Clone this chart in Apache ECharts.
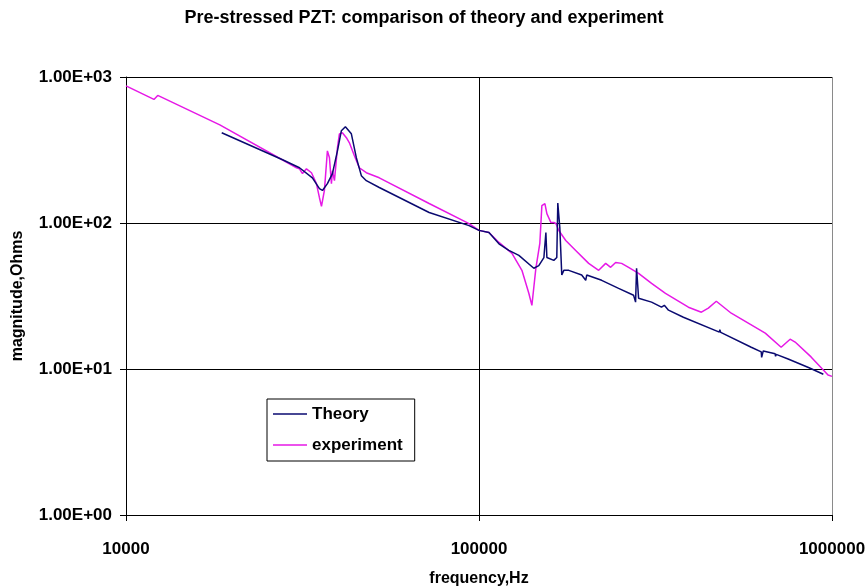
<!DOCTYPE html>
<html>
<head>
<meta charset="utf-8">
<script src="https://cdn.jsdelivr.net/npm/echarts@6/dist/echarts.min.js"></script>
<style>
html,body{margin:0;padding:0;background:#fff;}
#chart{width:866px;height:586px;}
</style>
</head>
<body>
<div id="chart"></div>
<script>
// ---- data ----
const titleText = 'Pre-stressed PZT: comparison of theory and experiment';
const xAxisName = 'frequency,Hz';
const yAxisName = 'magnitude,Ohms';
const seriesNames = ['Theory', 'experiment'];
const yTickLabels = ['1.00E+00', '1.00E+01', '1.00E+02', '1.00E+03'];

const theoryFreq = [18670, 27770, 31010, 33730, 35320, 36020, 37200, 38440, 39720, 40740, 41830, 43490, 44930, 46420, 47950, 52180, 72240, 93710, 100000, 106700, 113900, 121500, 129700, 143000, 147700, 152700, 154700, 155700, 162900, 166100, 167200, 169400, 171600, 173900, 179600, 195400, 200600, 201900, 222600, 248600, 274100, 277700, 279500, 283200, 308200, 328800, 333100, 335000, 344200, 379300, 479500, 481000, 484000, 590500, 630300, 632000, 638600, 690200, 692000, 695000, 751100, 861000, 945000];
const theoryMag  = [415, 271, 239, 204, 172, 167, 186, 218, 312, 428, 456, 408, 280, 211, 195, 175, 118, 96, 89, 86, 72, 65, 60, 49, 51, 58, 86, 58, 55.5, 58, 137, 93, 44, 47.4, 47.4, 44, 40.5, 44, 40.5, 35.7, 32, 28.7, 49, 30.5, 28.7, 26.5, 26.2, 27.3, 25.3, 22.6, 17.9, 18.6, 17.8, 14.1, 13.1, 12.0, 13.3, 12.7, 12.2, 12.6, 11.7, 10.2, 9.2];

const expFreq = [10000, 12000, 12300, 18440, 30410, 31010, 31620, 32450, 33530, 34630, 35320, 35790, 36480, 37200, 37700, 38190, 38440, 38950, 39720, 40230, 41020, 42100, 42940, 44360, 45810, 47950, 52180, 72240, 93710, 100000, 106700, 113900, 124000, 132300, 138400, 141200, 143000, 144900, 145800, 148700, 150700, 153700, 155700, 159800, 162900, 165100, 168300, 176100, 187900, 204500, 218300, 228500, 236000, 243800, 253500, 265300, 283200, 308200, 337500, 391900, 426600, 446300, 470200, 518400, 647000, 717600, 761000, 786200, 872300, 974300, 1000000];
const expMag  = [869, 702, 748, 470, 239, 235, 218, 235, 221, 186, 149, 130, 167, 312, 280, 186, 228, 195, 328, 408, 415, 384, 354, 289, 239, 221, 204, 136, 99, 89, 86, 73.6, 61.9, 47.4, 33, 27.3, 36.3, 48.9, 49.7, 72.4, 131.7, 135.9, 116, 100.8, 100.8, 99.2, 88.9, 75.9, 64.9, 52.9, 47.4, 52.9, 49.7, 53.7, 52.9, 49.7, 45.2, 38.6, 33, 26.5, 24.5, 26.1, 29.1, 24.1, 17.6, 14.1, 16.0, 15.3, 12.1, 9.1, 8.9];

const colors = ['#0a0a70', '#e619e6'];

// ---- chart ----
const zip = (a, b) => a.map((v, i) => [v, b[i]]);
const font = 'Liberation Sans, Arial, sans-serif';
const chart = echarts.init(document.getElementById('chart'), null, {renderer: 'canvas'});
chart.setOption({
  animation: false,
  backgroundColor: '#fff',
  title: {
    text: titleText,
    left: 424, top: 9, padding: 0, textAlign: 'center',
    textStyle: {fontFamily: font, fontWeight: 'bold', fontSize: 18, color: '#000'}
  },
  grid: {left: 126, right: 34, top: 77, bottom: 71, containLabel: false, outerBoundsMode: 'none'},
  legend: {
    data: seriesNames,
    icon: 'rect',
    orient: 'vertical',
    left: 267, top: 399,
    padding: [6, 12, 7, 6],
    itemWidth: 34, itemHeight: 1.5, itemGap: 13,
    borderColor: '#000', borderWidth: 1,
    textStyle: {fontFamily: font, fontWeight: 'bold', fontSize: 17, lineHeight: 18, color: '#000'}
  },
  xAxis: {
    type: 'log', logBase: 10, min: 10000, max: 1000000,
    name: xAxisName, nameLocation: 'middle', nameGap: 56,
    nameTextStyle: {fontFamily: font, fontWeight: 'bold', fontSize: 16, color: '#000'},
    axisLine: {show: true, lineStyle: {color: '#000', width: 1}},
    axisTick: {show: true, inside: false, length: 6, lineStyle: {color: '#000'}},
    minorTick: {show: false},
    axisLabel: {fontFamily: font, fontWeight: 'bold', fontSize: 17, color: '#000', margin: 26,
      formatter: v => String(Math.round(v))},
    splitLine: {show: true, lineStyle: {color: ['#000', '#000', '#8a8a8a'], width: 1}}
  },
  yAxis: {
    type: 'log', logBase: 10, min: 1, max: 1000,
    name: yAxisName, nameLocation: 'middle', nameGap: 100,
    nameTextStyle: {fontFamily: font, fontWeight: 'bold', fontSize: 16, color: '#000'},
    axisLine: {show: true, lineStyle: {color: '#000', width: 1}},
    axisTick: {show: true, inside: false, length: 6, lineStyle: {color: '#000'}},
    minorTick: {show: false},
    axisLabel: {fontFamily: font, fontWeight: 'bold', fontSize: 17, color: '#000', margin: 14,
      formatter: v => yTickLabels[Math.round(Math.log10(v))]},
    splitLine: {show: true, lineStyle: {color: '#000', width: 1}}
  },
  series: [
    {name: seriesNames[0], type: 'line', data: zip(theoryFreq, theoryMag), symbol: 'none',
     color: colors[0], lineStyle: {color: colors[0], width: 1.5}, z: 3},
    {name: seriesNames[1], type: 'line', data: zip(expFreq, expMag), symbol: 'none',
     color: colors[1], lineStyle: {color: colors[1], width: 1.5}, z: 2}
  ]
});
</script>
</body>
</html>
